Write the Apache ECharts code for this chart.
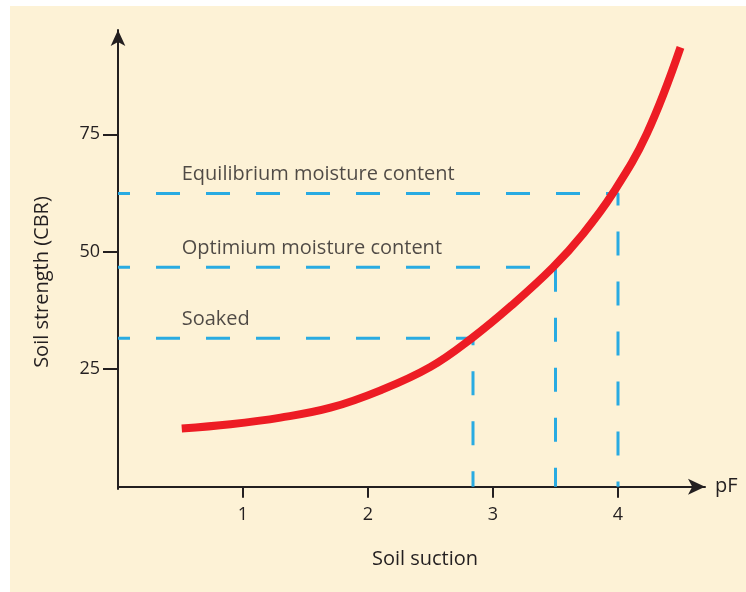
<!DOCTYPE html>
<html>
<head>
<meta charset="utf-8">
<script src="https://cdn.jsdelivr.net/npm/echarts@6/dist/echarts.min.js"></script>
<style>
  html, body { margin: 0; padding: 0; background: #ffffff; }
  #panel { position: absolute; left: 10px; top: 6px; width: 736px; height: 586px; background: #FDF2D6; }
  #chart { position: absolute; left: 0; top: 0; width: 746px; height: 592px; }
</style>
</head>
<body>
<div id="panel"></div>
<div id="chart"></div>
<script>
// Soil strength (CBR) against soil suction (pF)
const suctionPF   = [0.51, 0.90, 1.30, 1.70, 2.10, 2.50, 2.83, 3.15, 3.48, 3.72, 3.96, 4.23, 4.50];
const strengthCBR = [12.4, 13.3, 14.7, 16.8, 20.5, 25.5, 31.6, 38.6, 46.7, 53.8, 62.5, 75.1, 93.5];

// Moisture conditions and where they meet the curve
const conditionNames    = ['Soaked', 'Optimium moisture content', 'Equilibrium moisture content'];
const conditionSuction  = [2.84, 3.50, 4.00];
const conditionStrength = [31.6, 46.7, 62.4];

// Tick values shown on the axes
const xTickValues = [1, 2, 3, 4];
const yTickValues = [25, 50, 75];

const ink = '#231F20';
const font = 'Open Sans';
const labelStartPF = 0.51;

const chart = echarts.init(document.getElementById('chart'), null, { renderer: 'canvas' });

const curveData = suctionPF.map((x, i) => [x, strengthCBR[i]]);

const guideSeries = conditionNames.map((name, i) => ({
  type: 'line',
  name: name,
  data: [[0, conditionStrength[i]], [conditionSuction[i], conditionStrength[i]], [conditionSuction[i], 0]],
  symbol: 'none',
  silent: true,
  z: 1,
  lineStyle: { color: '#29ABE2', width: 3, type: [24, 26], dashOffset: 12, cap: 'butt' }
}));

const labelSeries = {
  type: 'scatter',
  symbolSize: 0,
  silent: true,
  z: 5,
  data: conditionNames.map((name, i) => ({ value: [labelStartPF, conditionStrength[i]], name: name })),
  label: {
    show: true,
    position: 'right',
    distance: 0,
    offset: [0, -19],
    formatter: p => p.name,
    color: ink,
    fontFamily: font,
    fontSize: 20
  }
};

chart.setOption({
  backgroundColor: 'transparent',
  animation: false,
  grid: { left: 118, right: 41, top: 30, bottom: 103 },
  xAxis: {
    type: 'value',
    min: 0,
    max: 4.696,
    name: 'pF',
    nameLocation: 'end',
    nameGap: 10,
    nameTextStyle: { color: ink, fontFamily: font, fontSize: 20 },
    axisLine: {
      show: true,
      symbol: ['none', 'arrow'],
      symbolSize: [12, 17],
      lineStyle: { color: ink, width: 2 }
    },
    axisTick: { show: true, customValues: xTickValues, length: 11, lineStyle: { color: ink, width: 2 } },
    axisLabel: { customValues: xTickValues, margin: 17, color: ink, fontFamily: font, fontSize: 18 },
    splitLine: { show: false }
  },
  yAxis: {
    type: 'value',
    min: -0.5,
    max: 97.2,
    axisLine: {
      show: true,
      symbol: ['none', 'arrow'],
      symbolSize: [11, 16],
      lineStyle: { color: ink, width: 2 }
    },
    axisTick: { show: true, customValues: yTickValues, length: 15, lineStyle: { color: ink, width: 2 } },
    axisLabel: { customValues: yTickValues, margin: 18, color: ink, fontFamily: font, fontSize: 18 },
    splitLine: { show: false }
  },
  graphic: [
    {
      type: 'text', x: 425, y: 559,
      style: { text: 'Soil suction', align: 'center', verticalAlign: 'middle', fill: ink, font: '20px "Open Sans"' }
    },
    {
      type: 'text', x: 42, y: 282, rotation: Math.PI / 2,
      style: { text: 'Soil strength (CBR)', align: 'center', verticalAlign: 'middle', fill: ink, font: '20px "Open Sans"' }
    }
  ],
  series: [
    ...guideSeries,
    {
      type: 'line',
      name: 'Soil strength',
      data: curveData,
      smooth: 0.4,
      symbol: 'none',
      silent: true,
      z: 3,
      lineStyle: { color: '#ED1C24', width: 8, cap: 'butt' }
    },
    labelSeries
  ]
});
</script>
</body>
</html>
